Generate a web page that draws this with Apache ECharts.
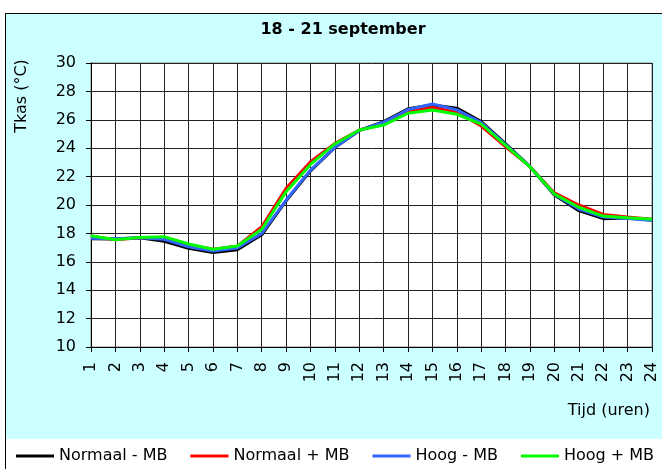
<!DOCTYPE html>
<html>
<head>
<meta charset="utf-8">
<script src="https://cdn.jsdelivr.net/npm/echarts@6/dist/echarts.min.js"></script>
<style>
  html, body { margin: 0; padding: 0; background: #fff; }
  .frame { position: absolute; left: 5px; top: 13px; width: 670px; height: 425px;
           background: #ccffff; border: 1px solid #000; }
  .legendbox { position: absolute; left: 5px; top: 439px; width: 670px; height: 40px;
               border-left: 1px solid #000; background: #fff; }
  #chart { position: absolute; left: 0; top: 0; width: 662px; height: 469px; }
</style>
</head>
<body>
<div class="frame"></div>
<div class="legendbox"></div>
<div id="chart"></div>
<script>
// uren 1..24
var hours = ['1','2','3','4','5','6','7','8','9','10','11','12','13','14','15','16','17','18','19','20','21','22','23','24'];
// Tkas (°C) per scenario
var normaalMin = [17.62, 17.6, 17.7, 17.45, 16.95, 16.65, 16.85, 17.9, 20.3, 22.4, 24.05, 25.25, 25.87, 26.78, 27.05, 26.82, 25.87, 24.3, 22.7, 20.7, 19.6, 19.04, 19.08, 18.95];
var normaalPlus = [17.8, 17.55, 17.7, 17.7, 17.2, 16.88, 17.1, 18.47, 21.17, 23.05, 24.34, 25.28, 25.7, 26.6, 26.86, 26.53, 25.56, 24.1, 22.7, 20.85, 20.0, 19.34, 19.15, 19.0];
var hoogMin = [17.65, 17.62, 17.7, 17.58, 17.06, 16.76, 16.97, 18.0, 20.35, 22.46, 24.06, 25.25, 25.83, 26.72, 27.11, 26.7, 25.8, 24.25, 22.7, 20.75, 19.72, 19.15, 19.05, 18.9];
var hoogPlus = [17.84, 17.55, 17.72, 17.77, 17.25, 16.88, 17.11, 18.29, 20.94, 22.86, 24.3, 25.28, 25.63, 26.46, 26.69, 26.39, 25.7, 24.2, 22.68, 20.77, 19.84, 19.22, 19.1, 19.0];
var seriesNames = ['Normaal - MB', 'Normaal + MB', 'Hoog - MB', 'Hoog + MB'];
var seriesColors = ['#000000', '#ff0000', '#3366ff', '#00ff00'];

var font = 'DejaVu Sans, Liberation Sans, Arial, sans-serif';

function makeLine(i, data) {
  return {
    name: seriesNames[i],
    type: 'line',
    data: data,
    symbol: 'none',
    showSymbol: false,
    itemStyle: { color: seriesColors[i] },
    lineStyle: { color: seriesColors[i], width: 3 },
    z: 3 + i
  };
}

var myChart = echarts.init(document.getElementById('chart'));
var option = {
  animation: false,
  backgroundColor: 'transparent',
  textStyle: { fontFamily: font },
  grid: {
    left: 91, right: 10, top: 63, bottom: 122,
    show: true,
    backgroundColor: '#fff',
    borderColor: '#808080',
    borderWidth: 1
  },
  legend: {
    left: 16,
    top: 448,
    padding: 0,
    width: 646,
    icon: 'rect',
    itemWidth: 38,
    itemHeight: 3,
    itemGap: 23,
    textStyle: { fontFamily: font, fontSize: 16, color: '#000' },
    data: seriesNames
  },
  graphic: [
    {
      type: 'text',
      style: { text: '18 - 21 september', x: 343, y: 30, textAlign: 'center', textVerticalAlign: 'middle',
               font: 'bold 16px ' + font, fill: '#000' }
    },
    {
      type: 'text',
      x: 22, y: 96, rotation: Math.PI / 2,
      style: { text: 'Tkas (°C)', x: 0, y: 0, textAlign: 'center', textVerticalAlign: 'middle',
               font: '16px ' + font, fill: '#000' }
    },
    {
      type: 'text',
      style: { text: 'Tijd (uren)', x: 650, y: 411, textAlign: 'right', textVerticalAlign: 'middle',
               font: '16px ' + font, fill: '#000' }
    }
  ],
  xAxis: {
    type: 'category',
    data: hours,
    boundaryGap: false,
    axisLine: { lineStyle: { color: '#000', width: 1 } },
    axisTick: { show: true, length: 5, lineStyle: { color: '#000' } },
    axisLabel: { rotate: 90, margin: 15, fontSize: 16, color: '#000', fontFamily: font, interval: 0 },
    splitLine: { show: true, lineStyle: { color: '#222', width: 1 } }
  },
  yAxis: {
    type: 'value',
    min: 10,
    max: 30,
    interval: 2,
    axisLine: { show: true, lineStyle: { color: '#000', width: 1 } },
    axisTick: { show: true, length: 5, lineStyle: { color: '#000' } },
    axisLabel: { margin: 15, fontSize: 16, color: '#000', fontFamily: font },
    splitLine: { show: true, lineStyle: { color: '#222', width: 1 } }
  },
  series: [
    makeLine(0, normaalMin),
    makeLine(1, normaalPlus),
    makeLine(2, hoogMin),
    makeLine(3, hoogPlus)
  ]
};
myChart.setOption(option);
</script>
</body>
</html>
